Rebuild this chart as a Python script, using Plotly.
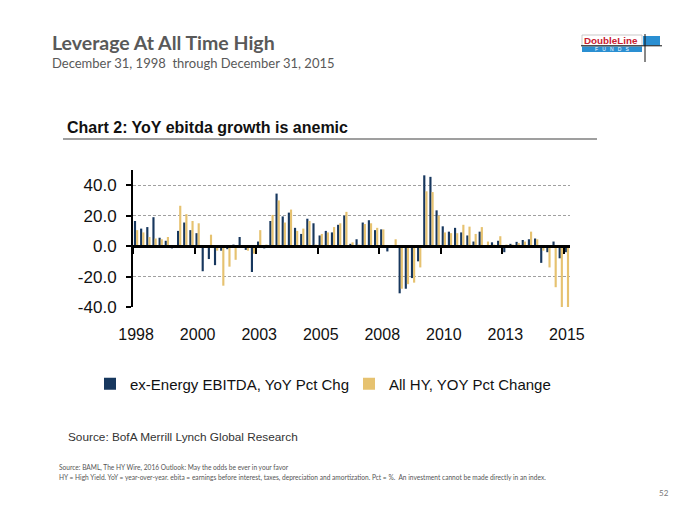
import plotly.graph_objects as go

# ---------------- data ----------------
year_labels = ["1998", "2000", "2003", "2005", "2008", "2010", "2013", "2015"]
label_every = 10  # quarters between labels

ex_energy = [16.5, 11.5, 12.5, 19, 5.5, 3.5, -1.5, 10, 15.5, 10.5,
             8.5, -16.5, -8.5, -12.5, -3, -2, 1, 6, -2.5, -17,
             3, -1.5, 16.5, 34.5, 19.5, 22, 12, 8, 18, 15,
             7, 10, 9, 14, 20, 1.5, 4.5, 15.5, 17, 10.5,
             11, -3.5, -1, -31, -28, -21, -10, 46.5, 45.5, 23.5,
             13, 9.5, 12, 9, 7, 3, 9.5, 0.3, 2.5, 3.5,
             -4, 1.5, 2.8, 4, 4.5, 5, -11, -4, 3, -8,
             -4]
all_hy = [10.5, 9, 6, 5, 4.5, 6, 0.5, 26.5, 21, 16.5,
          15, -1, 7.5, -3, -26, -13.5, -9, 0.5, -3, -5,
          10.5, 1, 20.5, 30, 15.5, 24, 10, 11.5, 16.5, 1,
          8, 9, 12.5, 15, 22.5, 2.5, 1, 14.5, 15, 12,
          11, -1, 4.5, -28, -25, -24, -14, 36, 35.5, 20,
          9, 8.5, 8.5, 14, 12.8, 8, 12.5, 3, 1, 6.5,
          1, 1, 2, 3, 9.5, 4.5, -3, -14, -27, -42,
          -42]

y_tick_vals = [-40, -20, 0, 20, 40]
y_tick_text = ["-40.0", "-20.0", "0.0", "20.0", "40.0"]

quarters = list(range(len(ex_energy)))
label_pos = [i * label_every for i in range(len(year_labels))]
tick_pos = [p - 0.5 for p in label_pos]

# ---------------- layout geometry ----------------
OFF = 8                      # page body margin added by the browser
W, H = 700 - OFF, 525 - OFF
L, T = 133 - OFF, 170 - OFF  # plot area left / top (figure px)
R, B = W - (570 - OFF), H - (307 - OFF)
PW, PH = W - L - R, H - T - B


def px(x):
    """reference-picture x (px) -> paper fraction"""
    return (x - OFF - L) / PW


def py(y):
    """reference-picture y (px) -> paper fraction"""
    return (H - B - (y - OFF)) / PH


SANS = "Liberation Sans, Arial, sans-serif"
CAL = "Lato, Open Sans, sans-serif"

DARK = "#17375E"
GOLD = "#E6C270"

fig = go.Figure()
fig.add_trace(go.Bar(x=quarters, y=ex_energy, name="ex-Energy EBITDA, YoY Pct Chg",
                     marker=dict(color=DARK, line=dict(width=0))))
fig.add_trace(go.Bar(x=quarters, y=all_hy, name="All HY, YOY Pct Change",
                     marker=dict(color=GOLD, line=dict(width=0))))
# invisible helper trace so the zero-line axis is drawn
fig.add_trace(go.Scatter(x=[0], y=[0], xaxis="x2", mode="markers",
                         marker=dict(opacity=0), showlegend=False, hoverinfo="skip"))

ymin, ymax = -40, 50
xr = [-0.5, len(quarters) - 0.5]

fig.update_layout(
    width=W, height=H,
    paper_bgcolor="white", plot_bgcolor="white",
    margin=dict(l=L, r=R, t=T, b=B, autoexpand=False),
    barmode="group", bargap=0.3, bargroupgap=0.0,
    showlegend=True,
    legend=dict(orientation="h", x=px(90), y=py(384), xanchor="left", yanchor="middle",
                font=dict(family=SANS, size=15, color="#111"),
                entrywidth=214, entrywidthmode="pixels", bgcolor="rgba(0,0,0,0)",
                itemclick=False),
    xaxis=dict(range=xr, tickmode="array", tickvals=label_pos, ticktext=year_labels,
               showline=False, showgrid=False, zeroline=False, ticks="",
               tickfont=dict(family=SANS, size=16, color="#111"),
               ticklabelstandoff=16),
    xaxis2=dict(range=xr, overlaying="x", anchor="free", position=(0 - ymin) / (ymax - ymin),
                showline=True, linecolor="black", linewidth=2.5, ticks="outside",
                ticklen=6, tickwidth=1.5, tickcolor="black", tickmode="array",
                tickvals=tick_pos, showticklabels=False, showgrid=False, zeroline=False),
    yaxis=dict(range=[ymin, ymax], tickmode="array", tickvals=y_tick_vals, ticktext=y_tick_text,
               showline=True, linecolor="black", linewidth=2, ticks="outside", ticklen=5,
               tickcolor="black", tickwidth=1.5,
               showgrid=True, gridcolor="#a0a0a0", griddash="3px,2px", gridwidth=1,
               zeroline=False, ticklabelstandoff=6,
               tickfont=dict(family=SANS, size=17, color="#111")),
)

annotations = [
    dict(text="<b>Leverage At All Time High</b>", x=px(50), y=py(42),
         font=dict(family=CAL, size=19.5, color="#595959")),
    dict(text="December 31, 1998  through December 31, 2015", x=px(50), y=py(63),
         font=dict(family=CAL, size=13, color="#595959")),
    dict(text="<b>Chart 2: YoY ebitda growth is anemic</b>", x=px(65), y=py(127),
         font=dict(family=SANS, size=16, color="#111")),
    dict(text="Source: BofA Merrill Lynch Global Research", x=px(66), y=py(437),
         font=dict(family=SANS, size=11.8, color="#333")),
    dict(text="Source: BAML, The HY Wire, 2016 Outlook: May the odds be ever in your favor",
         x=px(57), y=py(468), font=dict(family=CAL, size=6.6, color="#555")),
    dict(text="HY = High Yield. YoY = year-over-year. ebita = earnings before interest, taxes, "
              "depreciation and amortization. Pct = %.  An investment cannot be made directly in an index.",
         x=px(57), y=py(477), font=dict(family=CAL, size=6.6, color="#555")),
    dict(text="52", x=px(657), y=py(493), font=dict(family=CAL, size=8, color="#777")),
    dict(text="<b>DoubleLine</b>", x=px(582), y=py(40.5),
         font=dict(family=SANS, size=9.8, color="#C8202F")),
    dict(text="F   U   N   D   S", x=px(612), y=py(49.3), xanchor="center",
         font=dict(family=SANS, size=5, color="white")),
]
for a in annotations:
    a.setdefault("xanchor", "left")
    a.update(xref="paper", yref="paper", yanchor="middle", showarrow=False)
fig.update_layout(annotations=annotations)

shapes = [
    # chart-title underline
    dict(type="line", x0=px(63), x1=px(597), y0=py(139), y1=py(139),
         line=dict(color="#7f7f7f", width=1.5)),
    # logo pieces
    dict(type="rect", x0=px(582), x1=px(642), y0=py(35), y1=py(46),
         line=dict(color="#bbbbbb", width=0.8), fillcolor="white"),
    dict(type="rect", x0=px(582), x1=px(642), y0=py(46.5), y1=py(52),
         line=dict(width=0), fillcolor="#2A8FD2"),
    dict(type="rect", x0=px(643), x1=px(660), y0=py(36), y1=py(45.5),
         line=dict(width=0), fillcolor="#2A8FD2"),
    dict(type="line", x0=px(645), x1=px(645), y0=py(34), y1=py(62),
         line=dict(color="#111", width=1)),
    dict(type="line", x0=px(581), x1=px(662), y0=py(45.8), y1=py(45.8),
         line=dict(color="#111", width=1)),
]
for s in shapes:
    s.update(xref="paper", yref="paper")
fig.update_layout(shapes=shapes)

fig.write_html("out.html")
